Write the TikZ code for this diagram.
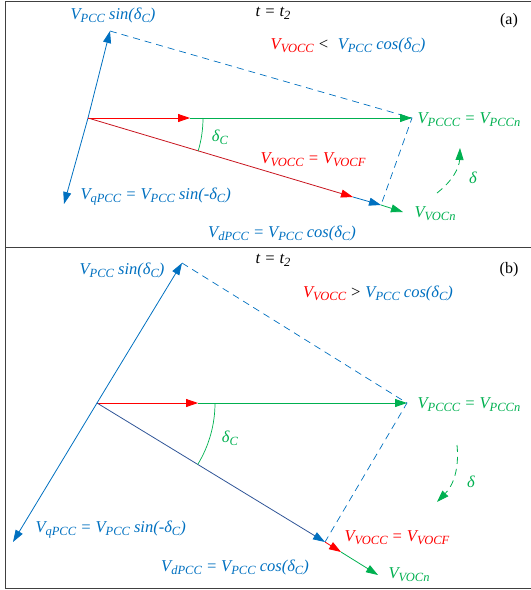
\documentclass[tikz,border=0pt]{standalone}
\usepackage{fontspec}
\setmainfont{Liberation Serif}
\usetikzlibrary{arrows.meta}
\definecolor{pccblue}{RGB}{0,112,192}
\definecolor{vocred}{RGB}{255,0,0}
\definecolor{vocgreen}{RGB}{0,176,80}
\definecolor{darkred}{RGB}{200,20,30}
\definecolor{navyline}{RGB}{47,85,151}
\newcommand{\lo}[1]{\raisebox{-0.4ex}{\fontsize{12.5}{13}\selectfont #1}}
\newcommand{\Vs}[1]{V\lo{#1}}
\tikzset{
  phasor/.style={line width=0.8pt,-{Triangle[length=12pt,width=8pt]}},
  proj/.style={pccblue,line width=0.7pt,dash pattern=on 7pt off 5pt},
  lbl/.style={font=\fontsize{16.5}{18}\selectfont\itshape},
  tag/.style={font=\fontsize{16}{18}\selectfont},
  angarc/.style={vocgreen,line width=0.7pt},
  rot/.style={vocgreen,line width=0.8pt,dash pattern=on 7pt off 5pt,-{Triangle[length=12pt,width=8pt]}}
}
\begin{document}
\begin{tikzpicture}[x=1pt,y=-1pt]
\useasboundingbox (0,0) rectangle (531,590);
\draw[line width=1pt,black!75] (531,1) -- (5,1) -- (5,588) -- (531,588);
\draw[line width=1pt,black!75] (5,247) -- (531,247);
% (a)
\coordinate (Oa) at (88,118);
\coordinate (Ra) at (190,118);
\coordinate (Pa) at (412,118);
\coordinate (Ua) at (110,31);
\coordinate (Da) at (64,204);
\coordinate (Fa) at (353,197);
\coordinate (Ba) at (381,205);
\coordinate (Na) at (403,212);
\coordinate (Sa) at (437,193);
\coordinate (Ea) at (460,148);
\draw[proj] (Ua) -- (Pa) -- (Ba);
\draw[phasor,pccblue] (Oa) -- (Ua);
\draw[phasor,pccblue] (Oa) -- (Da);
\draw[phasor,vocgreen] (Ra) -- (Pa);
\draw[phasor,vocred] (Oa) -- (Ra);
\draw[phasor,vocgreen] (Ba) -- (Na);
\draw[phasor,pccblue] (Fa) -- (Ba);
\draw[line width=0.8pt,darkred,-{Triangle[length=12pt,width=8pt,color=vocred]}] (Oa) -- (Fa);
\draw[angarc] (Oa) ++(115,0) arc[start angle=0,end angle=16.7,radius=115];
\draw[rot] (Sa) to[bend right=25] (Ea);
\node[lbl,pccblue] (sa) at (113,15) {\Vs{PCC} sin(δ\lo{C})};
\node[lbl] (ta) at (273,13) {t = t\lo{2}};
\node[tag] (ia) at (509,21) {(a)};
\node[lbl] (ca) at (348,45) {{\color{vocred}\Vs{VOCC}} <\; {\color{pccblue}\Vs{PCC} cos(δ\lo{C})}};
\node[lbl,vocgreen,anchor=west] (pa) at (414,120) {\Vs{PCCC} = \Vs{PCCn}};
\node[lbl,vocred] (fa) at (313,160) {\Vs{VOCC} = \Vs{VOCF}};
\node[lbl,vocgreen,anchor=west] (na) at (411,214) {\Vs{VOCn}};
\node[lbl,pccblue,anchor=west] (qa) at (77,197) {\Vs{qPCC} = \Vs{PCC} sin(-δ\lo{C})};
\node[lbl,pccblue] (da) at (282,233) {\Vs{dPCC} = \Vs{PCC} cos(δ\lo{C})};
\node[lbl,vocgreen] (ga) at (220,137) {δ\lo{C}};
\node[lbl,vocgreen] (ea) at (473,178) {δ};
% (b)
\coordinate (Ob) at (97,403);
\coordinate (Rb) at (198,403);
\coordinate (Pb) at (407,403);
\coordinate (Ub) at (182,263);
\coordinate (Db) at (13,542);
\coordinate (Bb) at (325,542);
\coordinate (Fb) at (341,552);
\coordinate (Nb) at (378,575);
\coordinate (Sb) at (457,445);
\coordinate (Eb) at (437,502);
\draw[proj] (Ub) -- (Pb) -- (Bb);
\draw[phasor,pccblue] (Ob) -- (Ub);
\draw[phasor,pccblue] (Ob) -- (Db);
\draw[phasor,vocgreen] (Rb) -- (Pb);
\draw[phasor,vocred] (Ob) -- (Rb);
\draw[phasor,vocgreen] (Fb) -- (Nb);
\draw[phasor,vocred] (Bb) -- (Fb);
\draw[line width=0.8pt,navyline,-{Triangle[length=12pt,width=8pt,color=pccblue]}] (Ob) -- (Bb);
\draw[angarc] (Ob) ++(118,0) arc[start angle=0,end angle=31.4,radius=118];
\draw[rot] (Sb) to[bend left=25] (Eb);
\node[lbl,pccblue] (sb) at (122,270) {\Vs{PCC} sin(δ\lo{C})};
\node[lbl] (tb) at (273,260) {t = t\lo{2}};
\node[tag] (ib) at (509,270) {(b)};
\node[lbl] (cb) at (378,293) {{\color{vocred}\Vs{VOCC}} > {\color{pccblue}\Vs{PCC} cos(δ\lo{C})}};
\node[lbl,vocgreen,anchor=west] (pb) at (414,405) {\Vs{PCCC} = \Vs{PCCn}};
\node[lbl,vocred,anchor=west] (fb) at (341,538) {\Vs{VOCC} = \Vs{VOCF}};
\node[lbl,vocgreen,anchor=west] (nb) at (385,575) {\Vs{VOCn}};
\node[lbl,pccblue,anchor=west] (qb) at (32,530) {\Vs{qPCC} = \Vs{PCC} sin(-δ\lo{C})};
\node[lbl,pccblue] (db) at (235,567) {\Vs{dPCC} = \Vs{PCC} cos(δ\lo{C})};
\node[lbl,vocgreen] (gb) at (230,438) {δ\lo{C}};
\node[lbl,vocgreen] (eb) at (471,482) {δ};
\end{tikzpicture}
\end{document}
